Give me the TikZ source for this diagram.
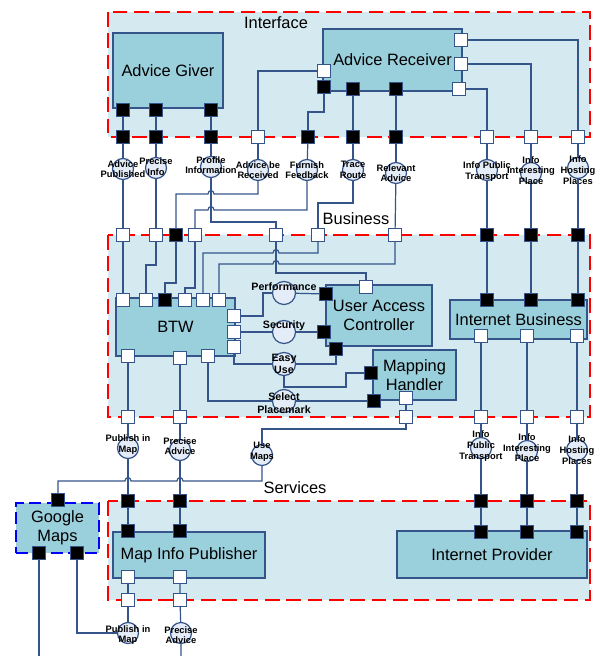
\documentclass[tikz,border=0pt]{standalone}
\usepackage{fontspec}
\setmainfont{Liberation Sans}
\usepackage{tikz}
\usetikzlibrary{positioning}

\definecolor{zonec}{RGB}{212,234,240}
\definecolor{compc}{RGB}{154,207,220}
\definecolor{wirec}{RGB}{52,84,138}
\definecolor{ballc}{RGB}{228,236,247}

\begin{document}
\begin{tikzpicture}[x=0.75pt, y=-0.75pt,
    zone/.style={fill=zonec, draw=red, line width=2.2pt, dash pattern=on 11pt off 5pt},
    title/.style={font=\fontsize{12.3}{14.5}\selectfont, inner sep=0pt},
    comp/.style={draw=wirec, line width=0.9pt, fill=compc, align=center, inner sep=0pt,
      font=\fontsize{12.3}{14.5}\selectfont},
    gdash/.style={draw=blue, line width=2.2pt, dash pattern=on 9pt off 4pt},
    wport/.style={draw=wirec, line width=0.8pt, fill=white, minimum size=9.5pt, inner sep=0pt},
    bport/.style={wport, fill=black},
    ball/.style={circle, draw=wirec, line width=0.9pt, fill=ballc, minimum size=15.75pt, inner sep=0pt},
    bigball/.style={ball, minimum size=17.25pt},
    ltext/.style={font=\fontsize{7}{8}\selectfont\bfseries, align=center, inner sep=0pt},
    mtext/.style={font=\fontsize{8}{9.5}\selectfont\bfseries, align=center, inner sep=0pt},
    wire/.style={draw=wirec, line width=0.9pt},
    hop/.style 2 args={insert path={-- (#1+3,#2) .. controls (#1+3,#2-4.5) and (#1-3,#2-4.5) .. (#1-3,#2)}}
  ]
  \useasboundingbox (0,0) rectangle (603,656);

  % Layers
  \draw[zone] (108,12) rectangle (590,137);
  \draw[zone] (108,235) rectangle (590,417);
  \draw[zone] (108,501) rectangle (590,600);
  \node[title] (tIface) at (276,23) {Interface};
  \node[title] (tBiz) at (356,219) {Business};
  \node[title] (tServ) at (295,488) {Services};

  % Components
  \node[comp, minimum width=82.5pt, minimum height=56.25pt] (giver) at (168,70.5) {Advice Giver};
  \node[comp, minimum width=104.25pt, minimum height=46.5pt] (recv) at (392.5,60) {Advice Receiver};
  \node[comp, minimum width=89.25pt, minimum height=43.5pt] (btw) at (175.5,327) {BTW};
  \node[comp, minimum width=79.5pt, minimum height=45.75pt] (uac) at (379,315.5) {User Access\\Controller};
  \node[comp, minimum width=62.25pt, minimum height=37.5pt] (maph) at (414.5,375) {Mapping\\Handler};
  \node[comp, minimum width=102.75pt, minimum height=29.25pt] (ibiz) at (518.5,319.5) {Internet Business};
  \node[comp, gdash, minimum width=62.25pt, minimum height=37.5pt] (gmaps) at (57.5,528) {Google\\Maps};
  \node[comp, minimum width=114pt, minimum height=34.5pt] (mip) at (189,555) {Map Info Publisher};
  \node[comp, minimum width=142.5pt, minimum height=35.25pt] (iprov) at (492,554.5) {Internet Provider};

  % Interface ports
  \node[bport] (gA) at (123,110) {};
  \node[bport] (gB) at (156,110) {};
  \node[bport] (gC) at (211,110) {};
  \node[wport] (rIn) at (324,71) {};
  \node[bport] (rA) at (324,87) {};
  \node[bport] (rB) at (353,89) {};
  \node[bport] (rC) at (396,89) {};
  \node[wport] (rD) at (459,89) {};
  \node[wport] (rE) at (461,64) {};
  \node[wport] (rF) at (461,40) {};
  \node[bport] (ipA) at (123,137) {};
  \node[bport] (ipB) at (156,137) {};
  \node[bport] (ipC) at (211,137) {};
  \node[wport] (ipD) at (258,137) {};
  \node[bport] (ipE) at (308,137) {};
  \node[bport] (ipF) at (353,137) {};
  \node[bport] (ipG) at (396,137) {};
  \node[wport] (ipH) at (487,137) {};
  \node[wport] (ipI) at (531,137) {};
  \node[wport] (ipJ) at (578,137) {};

  % Interface balls
  \node[ball, label={[ltext]center:Advice\\Published}] (cPub) at (123,169) {};
  \node[ball, label={[ltext,yshift=1pt]center:Precise\\Info}] (cPrec) at (156,168) {};
  \node[ball, label={[ltext,yshift=1.5pt]center:Profile\\Information}] (cProf) at (211,167) {};
  \node[ball, label={[ltext]center:Advice be\\Received}] (cRecv) at (258,170) {};
  \node[ball, label={[ltext]center:Furnish\\Feedback}] (cFurn) at (307,170) {};
  \node[ball, label={[ltext]center:Trace\\Route}] (cTrace) at (353,170) {};
  \node[ball, label={[ltext]center:Relevant\\Advice}] (cRel) at (396,173) {};
  \node[ball, label={[ltext,yshift=-1pt]center:Info Public\\Transport}] (cTrans) at (487,170) {};
  \node[ball, label={[ltext,yshift=2pt]center:Info\\Interesting\\Place}] (cInt) at (531,173) {};
  \node[ball, label={[ltext,yshift=-1.5pt]center:Info\\Hosting\\Places}] (cHost) at (578,168) {};

  % Business ports
  \node[wport] (bpA) at (123,235) {};
  \node[wport] (bpB) at (156,235) {};
  \node[bport] (bpC) at (176,235) {};
  \node[wport] (bpD) at (195,235) {};
  \node[wport] (bpE) at (276,235) {};
  \node[wport] (bpF) at (318,235) {};
  \node[wport] (bpG) at (395,235) {};
  \node[bport] (bpH) at (487,235) {};
  \node[bport] (bpI) at (531,235) {};
  \node[bport] (bpJ) at (578,235) {};
  \node[wport] (tA) at (123,300) {};
  \node[wport] (tB) at (146,300) {};
  \node[bport] (tC) at (165,300) {};
  \node[wport] (tD) at (185,300) {};
  \node[wport] (tE) at (203,300) {};
  \node[wport] (tF) at (219,300) {};
  \node[wport] (tR1) at (234,316) {};
  \node[wport] (tR2) at (234,332) {};
  \node[wport] (tR3) at (234,347) {};
  \node[wport] (tS1) at (128,356) {};
  \node[wport] (tS2) at (180,358) {};
  \node[wport] (tS3) at (208,356) {};
  \node[wport] (uTop) at (366,287) {};
  \node[bport] (uL1) at (326,294) {};
  \node[bport] (uL2) at (324,332) {};
  \node[bport] (uL3) at (336,349) {};
  \node[bport] (mL) at (371,373) {};
  \node[bport] (mB) at (374,401) {};
  \node[wport] (mOut) at (406,398) {};
  \node[bport] (ibA) at (487,300) {};
  \node[bport] (ibB) at (531,300) {};
  \node[bport] (ibC) at (578,300) {};
  \node[wport] (ibD) at (481,336) {};
  \node[wport] (ibE) at (527,336) {};
  \node[wport] (ibF) at (577,336) {};
  \node[wport] (bqA) at (128,417) {};
  \node[wport] (bqB) at (180,417) {};
  \node[wport] (bqC) at (406,417) {};
  \node[wport] (bqD) at (481,417) {};
  \node[wport] (bqE) at (527,417) {};
  \node[wport] (bqF) at (577,417) {};

  % Business balls
  \node[bigball, label={[mtext,yshift=5pt]center:Performance}] (cPerf) at (284,293) {};
  \node[bigball, label={[mtext,yshift=5pt]center:Security}] (cSec) at (284,332) {};
  \node[bigball, label={[mtext]center:Easy\\Use}] (cEasy) at (284,364) {};
  \node[bigball, label={[mtext,yshift=-1.5pt]center:Select\\Placemark}] (cSel) at (284,401) {};

  % Services balls and ports
  \node[ball, label={[ltext,yshift=2.5pt]center:Publish in\\Map}] (cPubMap) at (128,448) {};
  \node[ball, label={[ltext,yshift=3pt]center:Precise\\Advice}] (cPrecAdv) at (180,450) {};
  \node[ball, label={[ltext,yshift=2.5pt]center:Use\\Maps}] (cUse) at (262,455) {};
  \node[ball, label={[ltext,yshift=1.5pt]center:Info\\Public\\Transport}] (cTrans2) at (481,448) {};
  \node[ball, label={[ltext,yshift=2.5pt]center:Info\\Interesting\\Place}] (cInt2) at (527,451) {};
  \node[ball, label={[ltext]center:Info\\Hosting\\Places}] (cHost2) at (577,450) {};
  \node[bport] (spA) at (128,501) {};
  \node[bport] (spB) at (180,501) {};
  \node[bport] (spC) at (481,501) {};
  \node[bport] (spD) at (527,501) {};
  \node[bport] (spE) at (577,501) {};
  \node[bport] (gmTop) at (58,500) {};
  \node[bport] (gmA) at (39,553) {};
  \node[bport] (gmB) at (77,553) {};
  \node[bport] (mipA) at (128,531) {};
  \node[bport] (mipB) at (180,531) {};
  \node[wport] (mipC) at (128,577) {};
  \node[wport] (mipD) at (180,577) {};
  \node[wport] (sqA) at (128,600) {};
  \node[wport] (sqB) at (180,600) {};
  \node[bport] (ipvA) at (481,532) {};
  \node[bport] (ipvB) at (527,532) {};
  \node[bport] (ipvC) at (577,532) {};
  \node[ball, label={[ltext,yshift=-1.5pt]center:Publish in\\Map}] (cPubMap2) at (128,633) {};
  \node[ball, label={[ltext,yshift=-1.5pt]center:Precise\\Advice}] (cPrecAdv2) at (181,633) {};
  \coordinate (endA) at (39,656);
  \coordinate (endB) at (181,656);

  % Interface wiring
  \draw[wire] (gA) -- (ipA);
  \draw[wire] (gB) -- (ipB);
  \draw[wire] (gC) -- (ipC);
  \draw[wire] (rIn) -| (ipD);
  \draw[wire] (rA) -- (324,112) -| (ipE);
  \draw[wire] (rB) -- (ipF);
  \draw[wire] (rC) -- (ipG);
  \draw[wire] (rD) -| (ipH);
  \draw[wire] (rE) -| (ipI);
  \draw[wire] (rF) -| (ipJ);
  \foreach \p/\c in {ipA/cPub, ipB/cPrec, ipC/cProf, ipD/cRecv, ipE/cFurn,
                     ipF/cTrace, ipG/cRel, ipH/cTrans, ipI/cInt, ipJ/cHost}
    \draw[wire] (\p) -- (\c);

  % Interface to Business
  \draw[wire] (cPub) -- (bpA);
  \draw[wire] (cPrec) -- (bpB);
  \draw[wire] (cRecv) -- (258,194) [hop={211}{194}] -| (bpC);
  \draw[wire] (cFurn) -- (307,210) [hop={211}{210}] -| (bpD);
  \draw[wire] (cProf) -- (211,222) -| (bpE);
  \draw[wire] (cTrace) -- (353,203) -| (bpF);
  \draw[wire] (cRel) -- (bpG);
  \draw[wire] (cTrans) -- (bpH);
  \draw[wire] (cInt) -- (bpI);
  \draw[wire] (cHost) -- (bpJ);

  % Business wiring
  \draw[wire] (bpA) -- (tA);
  \draw[wire] (bpB) -- (156,265) -| (tB);
  \draw[wire] (bpC) -- (176,283) -| (tC);
  \draw[wire] (bpD) -- (195,288) -| (tD);
  \draw[wire] (bpE) -- (276,273) -| (uTop);
  \draw[wire] (bpF) -- (318,253) [hop={276}{253}] -| (tE);
  \draw[wire] (bpG) -- (395,264) [hop={276}{264}] -| (tF);
  \draw[wire] (tR1) -| (263,293) -- (cPerf);
  \draw[wire] (cPerf) -- (uL1);
  \draw[wire] (tR2) -- (cSec);
  \draw[wire] (cSec) -- (uL2);
  \draw[wire] (tR3) |- (cEasy);
  \draw[wire] (cEasy) -| (uL3);
  \draw[wire] (cEasy) -- (284,387) -| (346,373) -- (mL);
  \draw[wire] (tS3) |- (cSel);
  \draw[wire] (cSel) -- (mB);
  \draw[wire] (tS1) -- (bqA);
  \draw[wire] (tS2) -- (bqB);
  \draw[wire] (mOut) -- (bqC);
  \draw[wire] (bpH) -- (ibA);
  \draw[wire] (bpI) -- (ibB);
  \draw[wire] (bpJ) -- (ibC);
  \draw[wire] (ibD) -- (bqD);
  \draw[wire] (ibE) -- (bqE);
  \draw[wire] (ibF) -- (bqF);

  % Business to Services
  \draw[wire] (bqA) -- (cPubMap);
  \draw[wire] (bqB) -- (cPrecAdv);
  \draw[wire] (bqC) -- (406,429) -| (cUse);
  \draw[wire] (cPubMap) -- (spA);
  \draw[wire] (cPrecAdv) -- (spB);
  \draw[wire] (cUse) -- (262,481) [hop={180}{481}] [hop={128}{481}] -| (gmTop);
  \draw[wire] (bqD) -- (cTrans2) -- (spC);
  \draw[wire] (bqE) -- (cInt2) -- (spD);
  \draw[wire] (bqF) -- (cHost2) -- (spE);

  % Services wiring
  \draw[wire] (spA) -- (mipA);
  \draw[wire] (spB) -- (mipB);
  \draw[wire] (spC) -- (ipvA);
  \draw[wire] (spD) -- (ipvB);
  \draw[wire] (spE) -- (ipvC);
  \draw[wire] (mipC) -- (sqA) -- (cPubMap2);
  \draw[wire] (mipD) -- (sqB) -- (cPrecAdv2) -- (endB);
  \draw[wire] (gmA) -- (endA);
  \draw[wire] (gmB) |- (cPubMap2);
\end{tikzpicture}
\end{document}
